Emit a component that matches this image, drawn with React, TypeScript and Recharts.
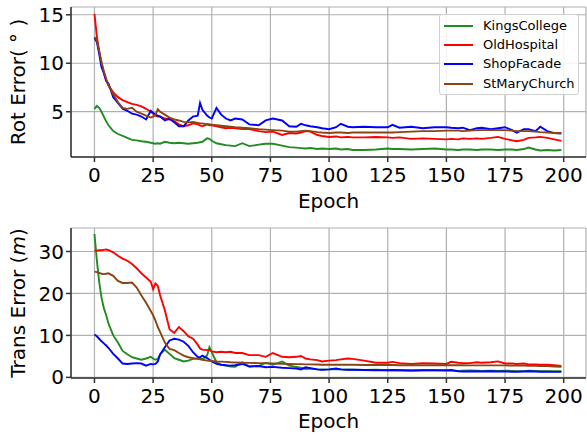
import React from 'react';
import { LineChart, Line, XAxis, YAxis, CartesianGrid, Legend } from 'recharts';

const epochs = [
  0, 1, 2, 3, 4, 5, 6,
  8, 10, 12, 14, 16, 18, 20, 22, 24,
  25, 26, 27, 28,
  30, 32, 34, 36, 38, 40, 42, 44,
  45, 46, 48, 49, 50,
  52, 54, 56, 58, 60,
  63, 66, 70, 73, 76, 80,
  83, 86, 88, 90, 92, 95, 97,
  100, 103, 105, 108, 110,
  115, 120, 125, 127, 130, 135, 140, 145,
  150, 152, 155, 157, 160, 163, 165, 169, 172, 175,
  178, 180, 183, 185, 188, 190, 193, 196, 199,
];

const seriesNames = ['KingsCollege', 'OldHospital', 'ShopFacade', 'StMaryChurch'];
const seriesColors = ['#228B22', '#ff0000', '#0000ff', '#8B4513'];
const xTicks = [0, 25, 50, 75, 100, 125, 150, 175, 200];
const rotTicks = [5, 10, 15];
const transTicks = [0, 10, 20, 30];

const rotKC = [
  5.3, 5.6, 5.4, 5.0, 4.5, 4.0, 3.6,
  3.0, 2.7, 2.5, 2.3, 2.1, 2.05, 1.95, 1.9, 1.8,
  1.75, 1.7, 1.75, 1.7,
  1.9, 1.8, 1.75, 1.8, 1.75, 1.7, 1.75, 1.8,
  1.85, 1.9, 2.25, 2.2, 2.0,
  1.75, 1.65, 1.55, 1.5, 1.45,
  1.75, 1.45, 1.6, 1.7, 1.7, 1.5,
  1.35, 1.3, 1.25, 1.2, 1.25, 1.15, 1.2,
  1.15, 1.2, 1.1, 1.15, 1.05,
  1.05, 1.1, 1.2, 1.15, 1.15, 1.1, 1.15, 1.2,
  1.1, 1.1, 1.05, 1.1, 1.1, 1.05, 1.1, 1.1, 1.05, 1.1,
  1.1, 1.05, 1.15, 1.3, 1.1, 1.0, 1.05, 1.0, 1.05,
];
const rotOH = [
  15.1, 12.8, 11.2, 10.0, 9.0, 8.2, 7.7,
  7.0, 6.5, 6.2, 6.0, 5.8, 5.7, 5.55, 5.3, 5.0,
  4.8, 4.6, 4.5, 4.5,
  4.3, 4.2, 4.0, 3.7, 3.5, 3.6, 3.8, 3.7,
  3.6, 3.5, 3.7, 3.6, 3.6,
  3.5, 3.4, 3.3, 3.35, 3.3,
  3.2, 3.2, 3.0, 2.9, 2.95, 2.6,
  2.8, 2.75, 2.85, 3.0, 2.95, 2.6, 2.5,
  2.4, 2.45, 2.35, 2.4, 2.35,
  2.35, 2.4, 2.35, 2.3, 2.35, 2.2, 2.25, 2.2,
  2.15, 2.2, 2.15, 2.25, 2.2, 2.25, 2.2, 2.3, 2.4, 2.2,
  2.05, 1.95, 2.1, 2.3, 2.35, 2.4, 2.3, 2.15, 2.0,
];
const rotSF = [
  12.6, 12.2, 11.0, 9.6, 9.0, 8.2, 7.9,
  6.5, 5.9, 5.3, 5.1, 4.8, 4.7, 4.5, 4.2, 5.1,
  4.9, 4.7, 4.6, 4.5,
  4.1, 4.3, 3.9, 3.5, 3.5, 4.1, 4.5, 4.6,
  5.9, 5.2, 4.6, 4.4, 4.3,
  5.4, 4.7, 4.3, 4.1, 4.3,
  4.2, 3.7, 3.6, 4.1, 4.3, 4.1,
  3.5, 3.45, 3.75, 3.6, 3.5, 3.4, 3.3,
  3.2, 3.4, 3.75, 3.45, 3.4,
  3.45, 3.4, 3.4, 3.65, 3.35, 3.45, 3.3, 3.4,
  3.4, 3.35, 3.3, 3.35, 3.1, 3.3, 3.35, 3.2, 3.3, 3.4,
  3.1, 2.85, 3.2, 3.2, 3.0, 3.45, 3.0, 2.8, 2.75,
];
const rotSMC = [
  12.7, 12.4, 11.3, 10.1, 9.2, 8.4, 7.7,
  6.8, 6.0, 5.4, 5.3, 5.4, 5.0, 4.8, 4.6, 4.4,
  4.5, 4.7, 5.25, 5.0,
  4.7, 4.4, 4.2, 4.1, 3.95, 3.9, 3.95, 3.85,
  3.8, 3.8, 3.7, 3.7, 3.65,
  3.6, 3.55, 3.5, 3.45, 3.4,
  3.35, 3.3, 3.2, 3.15, 3.1, 3.05,
  2.95, 2.95, 3.0, 3.05, 3.0, 2.9, 2.85,
  2.8, 2.85, 2.85, 2.8, 2.85,
  2.85, 2.85, 2.85, 2.85, 2.9, 2.95, 3.0, 3.0,
  3.05, 3.05, 3.05, 3.0, 3.05, 3.1, 3.1, 3.1, 3.1, 3.1,
  3.05, 3.0, 3.0, 3.0, 2.95, 2.9, 2.85, 2.8, 2.8,
];

const transKC = [
  34.2, 28, 22.8, 19, 16.5, 14.8, 12.8,
  10, 8.3, 6.3, 5.5, 4.8, 4.5, 4.2, 4.5, 4.9,
  4.5, 4.2, 4.4, 5.5,
  6.6, 5.6, 4.6, 4.2, 3.8, 4.0, 4.4, 4.5,
  4.6, 4.3, 5.2, 7.2, 6.0,
  3.6, 3.0, 2.8, 2.6, 2.5,
  3.6, 2.6, 2.7, 3.5, 3.0, 3.8,
  2.8, 2.5, 2.3, 2.0, 2.1, 1.9, 1.85,
  1.9, 2.0, 1.9, 1.8, 1.85,
  1.75, 1.8, 1.7, 1.75, 1.7, 1.65, 1.7, 1.7,
  1.6, 1.6, 1.55, 1.6, 1.65, 1.6, 1.55, 1.6, 1.55, 1.6,
  1.55, 1.5, 1.5, 1.6, 1.55, 1.5, 1.5, 1.45, 1.5,
];
const transOH = [
  30.2, 30.2, 30.3, 30.3, 30.4, 30.5, 30.3,
  29.8, 29.0, 28.3, 27.8, 27.0, 26.0, 24.8, 23.8, 22.8,
  21.0, 22.4, 21.8, 19.5,
  16.0, 11.5, 10.6, 12.0, 11.0, 9.8, 9.2, 7.8,
  6.9, 6.6, 6.5, 6.6, 6.2,
  6.0, 6.1, 6.0, 6.1, 5.8,
  5.8, 5.3, 5.3, 4.9, 5.8, 4.9,
  4.8, 4.9, 5.1, 4.5, 4.3, 4.1, 3.8,
  4.0, 4.1, 4.3, 4.5, 4.4,
  4.0, 3.5, 3.5, 3.7, 3.4, 3.2, 3.4, 3.3,
  3.2, 3.7, 3.5, 3.4, 3.4, 3.6, 3.5, 3.6, 3.8, 3.3,
  3.3, 3.2, 3.3, 3.1, 3.1, 3.0, 3.0, 2.9, 2.7,
];
const transSF = [
  10.2, 9.8, 9.2, 8.6, 8.1, 7.6, 7.0,
  5.6, 4.5, 3.3, 3.2, 3.3, 3.4, 3.3, 2.8, 3.2,
  3.1, 3.2, 3.8, 5.5,
  7.2, 8.8, 9.2, 9.0, 8.5, 7.5, 6.0, 4.9,
  4.8, 5.2, 4.6, 4.2, 3.8,
  3.2, 3.0, 2.9, 2.8, 2.9,
  3.2, 2.6, 2.7, 2.4, 2.5, 2.3,
  2.2, 2.1, 1.9, 2.4, 2.2, 1.9, 1.8,
  1.9, 2.1, 1.9, 1.8, 1.8,
  1.75, 1.7, 1.7, 1.75, 1.7, 1.65, 1.7, 1.7,
  1.7, 1.75, 1.45, 1.4, 1.4, 1.45, 1.4, 1.45, 1.4, 1.4,
  1.35, 1.35, 1.4, 1.45, 1.4, 1.35, 1.35, 1.3, 1.3,
];
const transSMC = [
  25.2, 25.1, 24.9, 24.7, 24.6, 24.7, 24.8,
  24.2, 23.0, 22.5, 22.5, 22.6, 21.4, 19.5, 17.8, 15.8,
  14.8, 13.5, 12.0, 10.8,
  8.3, 6.8, 6.5, 5.8, 5.2, 4.8, 4.6, 4.4,
  4.3, 4.2, 4.0, 3.95, 3.9,
  3.8, 3.75, 3.7, 3.6, 3.55,
  3.5, 3.45, 3.4, 3.35, 3.3, 3.25,
  3.2, 3.15, 3.15, 3.1, 3.1, 3.05, 3.0,
  3.0, 3.0, 3.0, 3.0, 3.0,
  2.95, 2.95, 2.95, 2.95, 2.9, 2.9, 2.9, 2.9,
  2.9, 2.9, 2.9, 2.9, 2.85, 2.85, 2.85, 2.85, 2.85, 2.85,
  2.8, 2.8, 2.8, 2.75, 2.75, 2.7, 2.7, 2.6, 2.5,
];

const FONT = '"DejaVu Sans", sans-serif';
const AXIS = '#333333';
const GRID = '#b0b0b0';

const rotData = epochs.map((e, i) => ({ epoch: e, s0: rotKC[i], s1: rotOH[i], s2: rotSF[i], s3: rotSMC[i] }));
const transData = epochs.map((e, i) => ({ epoch: e, s0: transKC[i], s1: transOH[i], s2: transSF[i], s3: transSMC[i] }));

const tickStyle = { fontSize: 20, fontFamily: FONT, fill: '#000' };

function LegendBox(props: any) {
  const payload = props.payload || [];
  return (
    <div
      style={{
        width: 140,
        height: 81,
        boxSizing: 'border-box',
        border: '1px solid #d0d0d0',
        borderRadius: 3,
        background: 'rgba(255,255,255,0.85)',
        fontFamily: FONT,
        fontSize: 13,
        position: 'relative',
      }}
    >
      {payload.map((p: any, i: number) => (
        <div key={i} style={{ position: 'absolute', left: 0, top: 11 + i * 19.2 - 9, height: 18, display: 'flex', alignItems: 'center' }}>
          <div style={{ width: 29, height: 2, background: p.color, marginLeft: 4 }} />
          <span style={{ marginLeft: 10, color: '#000', lineHeight: '18px' }}>{p.value}</span>
        </div>
      ))}
    </div>
  );
}

function Panel(props: {
  data: any[];
  top: number;
  height: number;
  marginTop: number;
  xAxisHeight: number;
  yDomain: [number, number];
  yTicks: number[];
  yTitle: React.ReactNode;
  yTitleY: number;
  epochY: number;
  legend?: boolean;
}) {
  const { data, top, height, marginTop, xAxisHeight, yDomain, yTicks, yTitle, yTitleY, epochY, legend } = props;
  return (
    <div style={{ position: 'absolute', left: 0, top, width: 587, height }}>
      <LineChart width={587} height={height} data={data} margin={{ top: marginTop, right: 1, bottom: 0, left: 0 }}>
        <CartesianGrid stroke={GRID} strokeWidth={1.2} />
        <XAxis
          dataKey="epoch"
          type="number"
          domain={[-10, 209.5]}
          ticks={xTicks}
          allowDataOverflow
          height={xAxisHeight}
          stroke={AXIS}
          strokeWidth={1.5}
          tickSize={5}
          tickMargin={6}
          tick={tickStyle}
          label={{
            content: () => (
              <text x={328.5} y={epochY} textAnchor="middle" dominantBaseline="central" fontSize={20} fontFamily={FONT} fill="#000">
                Epoch
              </text>
            ),
          }}
        />
        <XAxis xAxisId="top" orientation="top" type="number" domain={[-10, 209.5]} height={0} tick={false} tickLine={false} stroke={AXIS} strokeWidth={1.5} />
        <YAxis
          type="number"
          domain={yDomain}
          ticks={yTicks}
          allowDataOverflow
          width={71}
          stroke={AXIS}
          strokeWidth={1.5}
          tickSize={5}
          tickMargin={2}
          tick={tickStyle}
          label={{
            content: () => (
              <text
                x={18}
                y={yTitleY}
                transform={`rotate(-90 18 ${yTitleY})`}
                textAnchor="middle"
                dominantBaseline="central"
                fontSize={20}
                fontFamily={FONT}
                fill="#000"
              >
                {yTitle}
              </text>
            ),
          }}
        />
        <YAxis yAxisId="right" orientation="right" width={0} tick={false} tickLine={false} stroke={AXIS} strokeWidth={1.5} />
        {legend && (
          <Legend
            layout="vertical"
            align="center"
            verticalAlign="middle"
            content={<LegendBox />}
            wrapperStyle={{ left: 439, top: 14, width: 140, height: 81 }}
          />
        )}
        {seriesNames.map((n, i) => (
          <Line
            key={n}
            dataKey={`s${i}`}
            name={n}
            stroke={seriesColors[i]}
            strokeWidth={1.9}
            dot={false}
            type="linear"
            isAnimationActive={false}
          />
        ))}
      </LineChart>
    </div>
  );
}

export default function App() {
  return (
    <div style={{ position: 'absolute', left: 0, top: 0, width: 587, height: 435, background: '#fff' }}>
      <Panel
        data={rotData}
        top={0}
        height={215}
        marginTop={7}
        xAxisHeight={58}
        yDomain={[0.33, 15.8]}
        yTicks={rotTicks}
        yTitle={<>Rot Error( ° )</>}
        yTitleY={82}
        epochY={201}
        legend
      />
      <Panel
        data={transData}
        top={215}
        height={220}
        marginTop={13}
        xAxisHeight={57}
        yDomain={[-0.15, 35.6]}
        yTicks={transTicks}
        yTitle={
          <>
            Trans Error (<tspan fontStyle="italic">m</tspan>)
          </>
        }
        yTitleY={88}
        epochY={206}
      />
    </div>
  );
}
